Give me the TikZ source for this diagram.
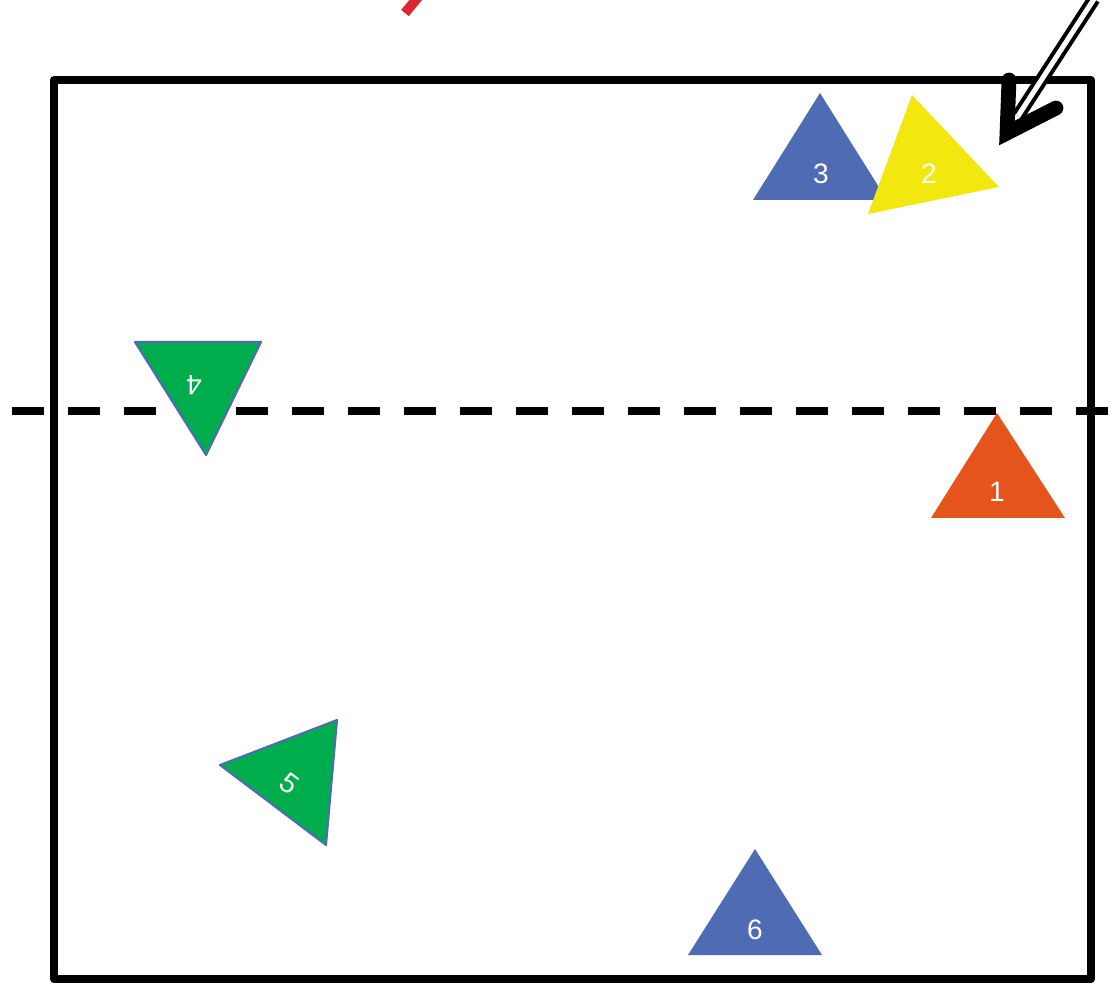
\documentclass[tikz,border=0pt]{standalone}
\usepackage{fontspec}
\setmainfont{Liberation Sans}
\usetikzlibrary{calc}
\definecolor{triblue}{HTML}{4E6BB4}
\definecolor{trigreen}{HTML}{00AD4C}
\definecolor{triyellow}{HTML}{F2E70F}
\definecolor{triorange}{HTML}{E5541C}
\definecolor{markred}{HTML}{D9282F}

\begin{document}
\begin{tikzpicture}[x=0.025cm,y=-0.025cm,
  tri/.style={fill=#1},
  greentri/.style={fill=trigreen,draw=triblue,line width=1.5pt,line join=round},
  lbl/.style={text=white,inner sep=0pt,font=\fontsize{20}{20}\selectfont}]
  \useasboundingbox (0,0) rectangle (1111,983);
  \clip (0,0) rectangle (1111,983);
  % red mark cut off at the top
  \draw[markred,line width=7pt] (419,-4) -- (405,13);
  % field and dashed line
  \draw[line width=5.7pt,line join=round] (54,80) rectangle (1091,979);
  \coordinate (dashstart) at (12,411);
  \coordinate (dashend) at (1111,411);
  \draw[line width=5pt,dash pattern=on 22.76pt off 17.07pt] (dashstart) -- (dashend);
  % triangles
  \fill[tri=triblue] (820,93) -- (887,200) -- (753,200) -- cycle;
  \fill[tri=triyellow] (912,95) -- (999,187) -- (868,214) -- cycle;
  \fill[tri=triorange] (997,413) -- (1065,518) -- (931,518) -- cycle;
  \fill[tri=triblue] (755,849) -- (822,955) -- (688,955) -- cycle;
  \filldraw[greentri] (135,342) -- (261,342) -- (206,455) -- cycle;
  \filldraw[greentri] (220,765) -- (337,720) -- (326,845) -- cycle;
  \node[lbl] (one) at (997,492) {1};
  \node[lbl] (two) at (929,174) {2};
  \node[lbl] (three) at (821,174) {3};
  \node[lbl,rotate=180] (four) at (194,385) {4};
  \node[lbl,rotate=-37] (five) at (289,784) {5};
  \node[lbl] (six) at (755,930) {6};
  % incoming arrow
  \coordinate (arrowtail) at (1094,-1);
  \coordinate (arrowend) at (1018,116);
  \coordinate (arrowtip) at (1007,133);
  \draw[line width=2.85pt,double=white,double distance=3.6pt] (arrowtail) -- (arrowend);
  \draw[line width=10.5pt,line cap=round,miter limit=10] (1009,80) -- (arrowtip) -- (1056,108);
\end{tikzpicture}
\end{document}
